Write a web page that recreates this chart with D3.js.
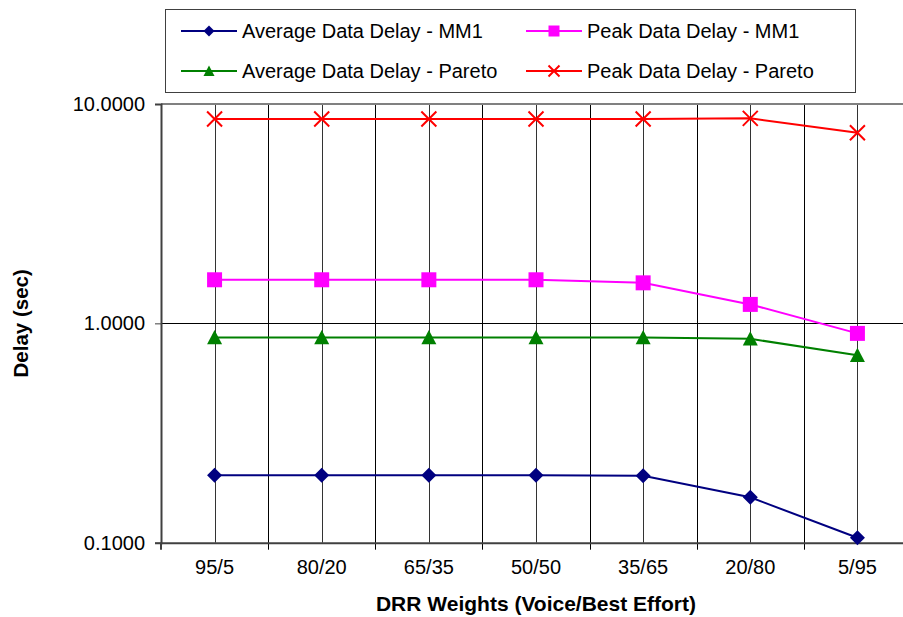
<!DOCTYPE html>
<html>
<head>
<meta charset="utf-8">
<script src="https://cdn.jsdelivr.net/npm/d3@7"></script>
<style>
  body { margin: 0; background: #fff; }
  text { font-family: "Liberation Sans", Arial, sans-serif; }
</style>
</head>
<body>
<svg id="chart" width="903" height="617"></svg>
<script>
// chart data
let categories = ['95/5', '80/20', '65/35', '50/50', '35/65', '20/80', '5/95'];
let avgMM1 = [0.203, 0.203, 0.203, 0.203, 0.202, 0.161, 0.1053];
let peakMM1 = [1.58, 1.58, 1.58, 1.58, 1.53, 1.22, 0.90];
let avgPareto = [0.863, 0.863, 0.863, 0.863, 0.862, 0.85, 0.715];
let peakPareto = [8.55, 8.55, 8.55, 8.55, 8.55, 8.6, 7.40];
let yTicks = [0.1, 1, 10];

let seriesNames = ['Average Data Delay - MM1', 'Peak Data Delay - MM1', 'Average Data Delay - Pareto', 'Peak Data Delay - Pareto'];
let seriesValues = [avgMM1, peakMM1, avgPareto, peakPareto];
let seriesColors = ['#000080', '#FF00FF', '#008000', '#FF0000'];
let seriesMarkers = ['diamond', 'square', 'triangle', 'cross'];

let plotLeft = 161, plotRight = 911, plotTop = 104, plotBottom = 542.7;

let svg = d3.select('#chart');

let x = d3.scaleBand().domain(categories).range([plotLeft, plotRight]);
let y = d3.scaleLog().domain([0.1, 10]).range([plotBottom, plotTop]);

//marker shapes, r is half the width
function markerPath(type, r) {
	switch (type) {
		case 'diamond':
			return `M0,${-r}L${r},0L0,${r}L${-r},0Z`;
		case 'square':
			return `M${-r},${-r}H${r}V${r}H${-r}Z`;
		case 'triangle':
			return `M0,${-r}L${r},${r * 0.9}L${-r},${r * 0.9}Z`;
		case 'cross':
			return `M${-r},${-r}L${r},${r}M${r},${-r}L${-r},${r}`;
		default:
			return '';
	}
}

//vertical gridlines at category centres and boundaries
let grid = svg.append('g');
grid.selectAll('.vc').data(categories).enter().append('line')
	.attr('x1', d => Math.round(x(d) + x.bandwidth() / 2) + 0.5)
	.attr('x2', d => Math.round(x(d) + x.bandwidth() / 2) + 0.5)
	.attr('y1', plotTop).attr('y2', plotBottom)
	.attr('stroke', '#333').attr('stroke-width', 1);
grid.selectAll('.vb').data(categories.slice(1)).enter().append('line')
	.attr('x1', d => Math.round(x(d)) + 0.5)
	.attr('x2', d => Math.round(x(d)) + 0.5)
	.attr('y1', plotTop).attr('y2', plotBottom + 7)
	.attr('stroke', '#000').attr('stroke-width', 1);
grid.append('line')
	.attr('x1', plotLeft).attr('x2', plotRight)
	.attr('y1', Math.round(y(1)) + 0.5).attr('y2', Math.round(y(1)) + 0.5)
	.attr('stroke', '#000').attr('stroke-width', 1);

//frame
svg.append('line').attr('x1', plotLeft).attr('x2', plotRight).attr('y1', plotTop).attr('y2', plotTop)
	.attr('stroke', '#808080').attr('stroke-width', 2);

//axes
let yAxis = d3.axisLeft(y).tickValues(yTicks).tickFormat(d3.format('.4f')).tickSize(6).tickPadding(10);
let gy = svg.append('g').attr('transform', `translate(${plotLeft},0)`).call(yAxis);
gy.select('.domain').attr('stroke', '#404040').attr('stroke-width', 2);
gy.selectAll('.tick line').attr('stroke', '#404040');
gy.selectAll('.tick text').attr('font-size', 20).attr('fill', '#000')
	.style('font-family', '"Liberation Sans", Arial, sans-serif');

let xAxis = d3.axisBottom(x).tickSize(0).tickPadding(17).tickSizeOuter(0);
let gx = svg.append('g').attr('transform', `translate(0,${plotBottom})`).call(xAxis);
gx.select('.domain').attr('stroke', '#404040').attr('stroke-width', 2);
gx.selectAll('.tick text').attr('font-size', 20).attr('fill', '#000')
	.style('font-family', '"Liberation Sans", Arial, sans-serif');
svg.append('line').attr('x1', plotLeft).attr('x2', plotLeft).attr('y1', plotBottom).attr('y2', plotBottom + 7)
	.attr('stroke', '#404040').attr('stroke-width', 2);

//axis titles
svg.append('text')
	.attr('transform', `translate(28,${(plotTop + plotBottom) / 2}) rotate(-90)`)
	.attr('text-anchor', 'middle')
	.attr('font-size', 20.5).attr('font-weight', 'bold')
	.text('Delay (sec)');
svg.append('text')
	.attr('x', (plotLeft + plotRight) / 2).attr('y', 611)
	.attr('text-anchor', 'middle')
	.attr('font-size', 21).attr('font-weight', 'bold')
	.text('DRR Weights (Voice/Best Effort)');

//series lines and markers
let line = d3.line()
	.x((d, i) => x(categories[i]) + x.bandwidth() / 2)
	.y(d => y(d));

seriesValues.forEach(function(values, s) {
	let color = seriesColors[s];
	svg.append('path')
		.attr('d', line(values))
		.attr('fill', 'none')
		.attr('stroke', color)
		.attr('stroke-width', 2);
	svg.selectAll('.m' + s).data(values).enter().append('path')
		.attr('transform', (d, i) => `translate(${x(categories[i]) + x.bandwidth() / 2},${y(d)})`)
		.attr('d', markerPath(seriesMarkers[s], 7.5))
		.attr('fill', seriesMarkers[s] == 'cross' ? 'none' : color)
		.attr('stroke', seriesMarkers[s] == 'cross' ? color : 'none')
		.attr('stroke-width', 2);
});

//legend
let legend = svg.append('g');
legend.append('rect')
	.attr('x', 165.5).attr('y', 9.5).attr('width', 690).attr('height', 83)
	.attr('fill', '#fff').attr('stroke', '#404040').attr('stroke-width', 1);

let legendCols = [181, 526];
let legendRows = [31, 71];
seriesNames.forEach(function(name, s) {
	let lx = legendCols[s % 2];
	let ly = legendRows[Math.floor(s / 2)];
	let color = seriesColors[s];
	legend.append('line')
		.attr('x1', lx).attr('x2', lx + 56).attr('y1', ly).attr('y2', ly)
		.attr('stroke', color).attr('stroke-width', 2);
	legend.append('path')
		.attr('transform', `translate(${lx + 28},${ly})`)
		.attr('d', markerPath(seriesMarkers[s], 5.5))
		.attr('fill', seriesMarkers[s] == 'cross' ? 'none' : color)
		.attr('stroke', seriesMarkers[s] == 'cross' ? color : 'none')
		.attr('stroke-width', 2);
	legend.append('text')
		.attr('x', lx + 61).attr('y', ly + 7)
		.attr('font-size', 20)
		.text(name);
});
</script>
</body>
</html>
